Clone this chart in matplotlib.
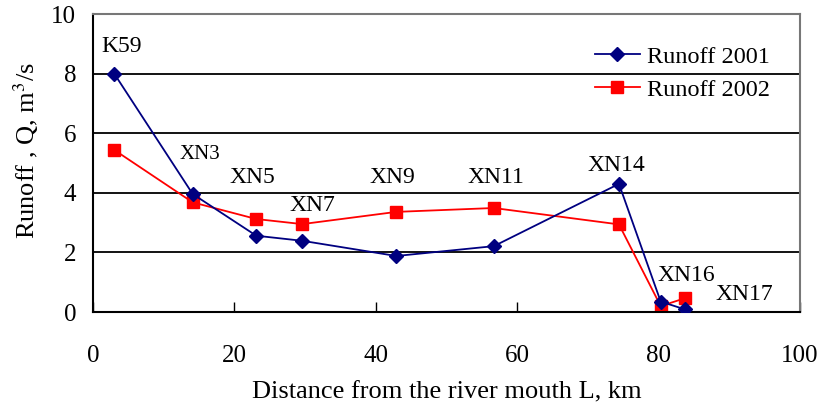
import matplotlib.pyplot as plt

plt.rcParams['font.family'] = ['Liberation Serif', 'DejaVu Serif']
plt.rcParams['mathtext.fontset'] = 'stix'

# station positions along the river (km) and runoff (m3/s)
stations = ["K59", "XN3", "XN5", "XN7", "XN9", "XN11", "XN14", "XN16", "XN17"]
distance = [3.0, 14.1, 23.1, 29.6, 42.9, 56.7, 74.4, 80.3, 83.7]
runoff_2001 = [8.0, 3.96, 2.56, 2.39, 1.88, 2.21, 4.30, 0.35, 0.09]
runoff_2002 = [5.44, 3.68, 3.12, 2.95, 3.36, 3.49, 2.94, 0.20, 0.46]

# where the station names are written
label_x = [4.1, 15.1, 22.6, 31.0, 42.4, 57.0, 74.0, 83.9, 92.1]
label_y = [8.9, 5.3, 4.53, 3.56, 4.53, 4.53, 4.93, 1.24, 0.6]
label_size = [17, 15, 17, 17, 17, 17, 17, 17, 17]

fig = plt.figure(figsize=(8.23, 4.05), dpi=100)
ax = fig.add_axes([0.113, 0.2296, 0.859, 0.7358])

for yg in [2, 4, 6, 8]:
    ax.axhline(yg, color='black', lw=1.3, zorder=1)

ax.plot(distance, runoff_2001, color='#000080', marker='D', markersize=7,
        lw=1.3, label='Runoff 2001', zorder=3)
ax.plot(distance, runoff_2002, color='#ff0000', marker='s', markersize=9,
        lw=1.3, label='Runoff 2002', zorder=2)

for name, lx, ly, fs in zip(stations, label_x, label_y, label_size):
    ax.text(lx, ly, name, fontsize=fs, ha='center', va='center')

ax.set_xlim(0, 100)
ax.set_ylim(0, 10)
ax.set_xticks([0, 20, 40, 60, 80, 100])
ax.set_yticks([0, 2, 4, 6, 8, 10])
ax.tick_params(axis='x', direction='in', length=7, width=1, labelsize=18, pad=24)
ax.tick_params(axis='y', length=0, labelsize=18, pad=12)

ax.spines['left'].set_color('black')
ax.spines['bottom'].set_color('black')
ax.spines['left'].set_linewidth(1.5)
ax.spines['bottom'].set_linewidth(1.5)
ax.spines['top'].set_color('#777777')
ax.spines['right'].set_color('#777777')
ax.spines['top'].set_linewidth(1.5)
ax.spines['right'].set_linewidth(1.5)

ax.set_xlabel('Distance from the river mouth L, km', fontsize=19, labelpad=10)
ax.set_ylabel('Runoff , Q, m$^3$/s', fontsize=19)
ax.yaxis.set_label_coords(-0.073, 0.54)

ax.legend(loc='upper left', bbox_to_anchor=(0.71, 0.893), frameon=False,
          fontsize=17.5, handlelength=1.85, handletextpad=0.3, labelspacing=0.45,
          borderaxespad=0, borderpad=0)

fig.savefig('out.png', dpi=100)
